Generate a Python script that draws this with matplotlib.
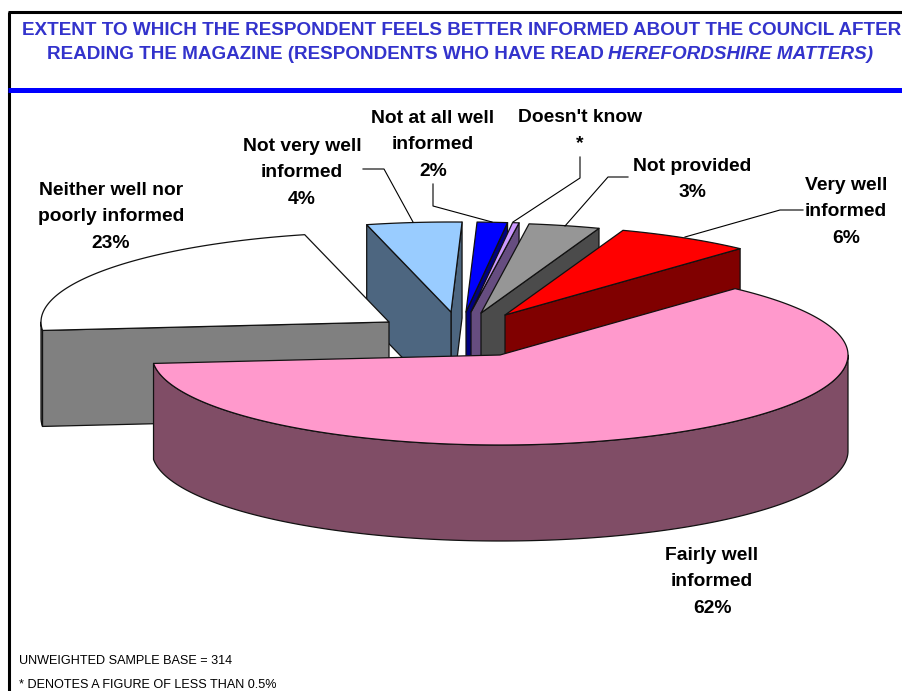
import numpy as np
import matplotlib
matplotlib.use("Agg")
from matplotlib import pyplot as plt
from matplotlib.patches import Polygon

# shares, anticlockwise from the right hand corner of "Very well informed"
categories = ["Very well informed", "Not provided", "Doesn't know", "Not at all well informed",
              "Not very well informed", "Neither well nor poorly informed", "Fairly well informed"]
values = [6.3, 3.3, 0.3, 1.4, 4.4, 22.6, 61.7]
top_colours = ["#FF0000", "#969696", "#CC99FF", "#0000FF", "#99CCFF", "#FFFFFF", "#FF99CC"]
wall_colours = ["#800000", "#4B4B4B", "#664D80", "#000080", "#4D6680", "#808080", "#804D66"]

# where each exploded slice has its point, in pixels
centres = [(505, 315), (481, 313), (471, 312), (466, 312), (451, 312), (389, 322), (500, 355)]
draw_order = [4, 3, 2, 1, 0, 5, 6]
start_angle = 47.5
RX = 348.0
RY = 90.0
DEPTH = 96.0

plt.rcParams['font.family'] = ['Liberation Sans', 'DejaVu Sans']

W, H = 902, 691
fig = plt.figure(figsize=(W/100, H/100), dpi=100)
ax = fig.add_axes([0, 0, 1, 1])
ax.set_xlim(0, W)
ax.set_ylim(H, 0)
ax.axis("off")

def rim(c, a, b):
    t = np.radians(np.linspace(a, b, max(int(abs(b-a)*2), 2)))
    return np.column_stack([c[0]+RX*np.cos(t), c[1]-RY*np.sin(t)])

def add_poly(pts, colour, z):
    ax.add_patch(Polygon(pts, closed=True, fc=colour, ec="#111111", lw=0.9, joinstyle="round", zorder=z))

def corner(c, a):
    return np.array([c[0]+RX*np.cos(np.radians(a)), c[1]-RY*np.sin(np.radians(a))])

edges = start_angle + np.concatenate([[0], np.cumsum(values)])*3.6

z = 2
for i in draw_order:
    a, b = edges[i], edges[i+1]
    c = np.array(centres[i], dtype=float)
    down = np.array([0, DEPTH])
    # outer curved wall, only the part facing the viewer (180-360 deg)
    lo, hi = max(a, 180), min(b, 360)
    if hi > lo:
        arc = rim(c, lo, hi)
        add_poly(np.vstack([arc, arc[::-1]+down]), wall_colours[i], z)
    # cut faces
    if np.cos(np.radians(a)) > 0:
        p = corner(c, a)
        add_poly([c, p, p+down, c+down], wall_colours[i], z)
    if np.cos(np.radians(b)) < 0:
        p = corner(c, b)
        add_poly([c, p, p+down, c+down], wall_colours[i], z)
    add_poly(np.vstack([[c], rim(c, a, b)]), top_colours[i], z+1)
    z += 2

# frame and title rule
ax.plot([8.5, 8.5], [H, 12], color="black", lw=2.2, zorder=30, solid_capstyle="butt")
ax.plot([8, W], [12, 12], color="black", lw=2.2, zorder=30, solid_capstyle="butt")
ax.plot([8, W], [89.5, 89.5], color="#0000FF", lw=3.6, zorder=30, solid_capstyle="butt")

title_colour = "#3333CC"
title_size = 13.55
ax.text(461.5, 30, "EXTENT TO WHICH THE RESPONDENT FEELS BETTER INFORMED ABOUT THE COUNCIL AFTER",
        ha="center", va="center", fontsize=title_size, fontweight="bold", color=title_colour)
ax.text(604, 54, "READING THE MAGAZINE (RESPONDENTS WHO HAVE READ",
        ha="right", va="center", fontsize=title_size, fontweight="bold", color=title_colour)
ax.text(608, 54, "HEREFORDSHIRE MATTERS)", ha="left", va="center", fontsize=title_size,
        fontweight="bold", fontstyle="italic", color=title_colour)

label_text = [(846, 185.5, ["Very well", "informed", "6%"]),
              (692, 166.5, ["Not provided", "3%"]),
              (580, 117.5, ["Doesn't know", "*"]),
              (433, 118.5, ["Not at all well", "informed", "2%"]),
              (302, 146.5, ["Not very well", "informed", "4%"]),
              (111, 190.5, ["Neither well nor", "poorly informed", "23%"]),
              (712, 555.5, ["Fairly well", "informed", "62%"])]
for x, y, lines in label_text:
    for k, line in enumerate(lines):
        ax.text(x, y+k*26.3, line, ha="center", va="center", fontsize=13.9, fontweight="bold",
                color="black", zorder=40)

leaders = [[(685, 237), (780, 210), (803, 210)],
           [(628, 177), (608, 177), (565, 226)],
           [(580, 157), (580, 178), (513, 222)],
           [(433, 184), (433, 206), (492, 222)],
           [(363, 169), (384, 169), (413, 222)]]
for pts in leaders:
    xs, ys = zip(*pts)
    ax.plot(xs, ys, color="black", lw=0.8, zorder=35)

ax.text(19, 661, "UNWEIGHTED SAMPLE BASE = 314", ha="left", va="center", fontsize=9.05, color="black")
ax.text(19, 685, "* DENOTES A FIGURE OF LESS THAN 0.5%", ha="left", va="center", fontsize=9.05, color="black")

fig.savefig("out.png", dpi=100)
